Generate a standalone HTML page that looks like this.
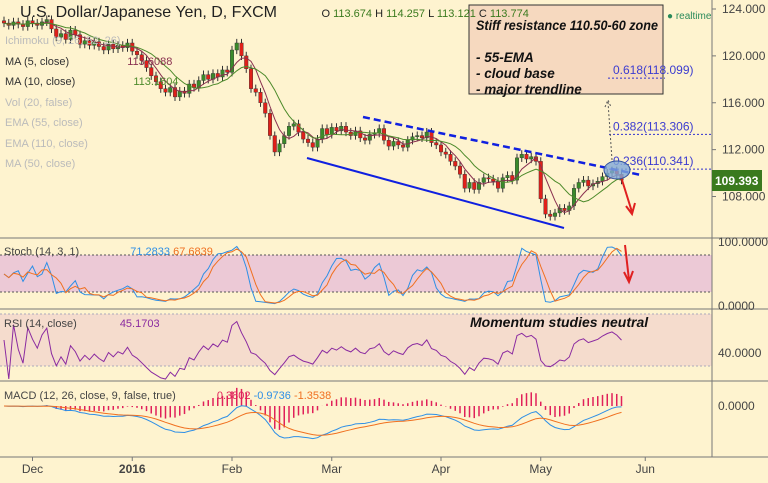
<!DOCTYPE html>
<html><head><meta charset="utf-8"><style>
body{margin:0;width:768px;height:483px;overflow:hidden;background:#fef3cf;font-family:"Liberation Sans",sans-serif}
svg{display:block}
text{font-family:"Liberation Sans",sans-serif}
</style></head><body>
<svg id="c" width="768" height="483">
<rect x="0" y="0" width="768" height="483" fill="#fef3cf"/>
<g id="bands"></g>
<g id="marks"></g>
<g id="over">
<g>
<rect x="469" y="5" width="194" height="89" fill="#f6d9bf" stroke="#333" stroke-width="1"/>
<text x="476" y="30" font-size="13.5" font-weight="bold" font-style="italic" fill="#111" textLength="182" lengthAdjust="spacingAndGlyphs">Stiff resistance 110.50-60 zone</text>
<text x="476" y="62" font-size="13.5" font-weight="bold" font-style="italic" fill="#111">- 55-EMA</text>
<text x="476" y="78" font-size="13.5" font-weight="bold" font-style="italic" fill="#111">- cloud base</text>
<text x="476" y="94" font-size="13.5" font-weight="bold" font-style="italic" fill="#111">- major trendline</text>
</g>
</g>
</svg>
<script>
const closes=[122.8,122.6,122.9,122.7,122.5,123.0,122.8,122.6,122.9,123.1,
122.3,121.6,121.9,121.4,122.2,121.8,121.0,121.3,120.9,121.2,
120.8,120.5,121.0,120.6,120.9,120.7,121.1,120.4,120.1,119.6,
119.0,118.3,117.8,117.2,116.9,117.3,116.5,117.0,116.8,117.6,
117.3,117.9,118.4,118.0,118.5,118.2,118.8,118.6,120.5,121.1,
120.0,118.9,117.2,116.9,116.0,115.1,113.2,111.8,112.5,113.2,
114.0,114.2,113.5,112.9,112.6,112.2,112.9,113.8,113.3,113.9,
113.6,114.0,113.5,113.2,113.6,113.0,112.8,113.3,113.4,113.8,
112.8,112.3,112.7,112.4,112.2,112.8,113.1,113.2,113.0,113.5,
112.6,112.4,111.8,111.6,111.0,110.6,109.9,108.7,109.2,108.6,
109.2,109.6,109.5,109.3,108.7,109.6,109.8,109.4,111.3,111.6,
111.2,111.4,111.0,107.8,106.5,106.3,106.6,107.0,106.8,107.2,
108.7,109.2,109.4,108.9,109.1,109.3,109.7,110.0,110.2,109.9,109.4];
const priceTicks=[124,120,116,112,108];
const monthLabels=["Dec","2016","Feb","Mar","Apr","May","Jun"];
const monthIdx=[6,27,48,69,92,113,135];
const fibLevels=[0.618,0.382,0.236];
const fibPrices=[118.099,113.306,110.341];
const lastPrice=109.393;

const NS="http://www.w3.org/2000/svg";
const xOf=i=>4+i*4.75;
const yP=v=>9+(124-v)*11.72;
const yS=v=>306-v*0.64;
const yR=v=>353-(v-40)*1.3;
const yM=v=>406-v*20;
function el(tag,attrs,parent,txt){const e=document.createElementNS(NS,tag);for(const k in attrs)e.setAttribute(k,attrs[k]);if(txt!==undefined)e.textContent=txt;(parent||document.getElementById('marks')).appendChild(e);return e;}
const bands=document.getElementById('bands'),over=document.getElementById('over');

let r=el('rect',{x:0,y:255,width:712,height:37,fill:'#ecc9d6'},bands);

r=el('rect',{x:0,y:314,width:712,height:52,fill:'#f5dccd'},bands);

[[255,'#555'],[292,'#555'],[314,'#aab'],[366,'#aab']].forEach(([y,c])=>{const l=el('line',{x1:0,x2:712,y1:y,y2:y,stroke:c,'stroke-dasharray':'2,2','stroke-width':1},bands);});
[238,309,381,457].forEach(y=>{const l=el('line',{x1:0,x2:768,y1:y,y2:y,stroke:'#777','stroke-width':1},bands);});
let ax=el('line',{x1:712,x2:712,y1:0,y2:457,stroke:'#777'},bands);


priceTicks.forEach(v=>{const t=el('text',{x:722,y:yP(v)+4,'font-size':12,fill:'#444'},over,v.toFixed(3));
const k=el('line',{x1:712,x2:716,y1:yP(v),y2:yP(v),stroke:'#777'},bands);});
[['100.0000',yS(100)],['0.0000',yS(0)],['40.0000',yR(40)],['0.0000',yM(0)]].forEach(([s,y])=>{const t=el('text',{x:718,y:y+4,'font-size':12,fill:'#444'},over,s);});

monthLabels.forEach((m,k)=>{const x=xOf(monthIdx[k]);const t=el('text',{x:x,y:473,'font-size':12,fill:'#444','text-anchor':'middle','font-weight':m==='2016'?'bold':'normal'},over,m);
const g=el('line',{x1:x,x2:x,y1:457,y2:461,stroke:'#777'},bands);});

closes.forEach((c,i)=>{const o=i?closes[i-1]:c+0.2;const hi=Math.max(o,c)+0.35,lo=Math.min(o,c)-0.35;const x=xOf(i);const up=c>=o;
const w=el('line',{x1:x,x2:x,y1:yP(hi),y2:yP(lo),stroke:'#333','stroke-width':1});
const b=el('rect',{x:x-1.8,y:yP(Math.max(o,c)),width:3.6,height:Math.max(1,Math.abs(yP(o)-yP(c))),fill:up?'#3a8a2a':'#e0201a',stroke:'#333','stroke-width':0.4});});

function sma(a,n){return a.map((_,i)=>{const s=a.slice(Math.max(0,i-n+1),i+1);return s.reduce((p,q)=>p+q,0)/s.length;});}
function ema(a,n){const k=2/(n+1);let out=[],p=a[0];a.forEach(v=>{p=v*k+p*(1-k);out.push(p);});return out;}
function line(vals,yf,color,name,w){const d=vals.map((v,i)=>(i?'L':'M')+xOf(i).toFixed(1)+','+yf(v).toFixed(1)).join('');const p=el('path',{d:d,fill:'none',stroke:color,'stroke-width':w||1});}
line(sma(closes,5),yP,'#8a3050','ma5-line');
line(sma(closes,10),yP,'#4c8a2a','ma10-line');

const rawK=closes.map((c,i)=>{const s=closes.slice(Math.max(0,i-13),i+1);const h=Math.max(...s)+0.35,l=Math.min(...s)-0.35;return (c-l)/(h-l)*100;});
const kS=sma(rawK,2),dS=sma(rawK,4);
line(kS,yS,'#2e8fe6','stoch-k-line');line(dS,yS,'#f07020','stoch-d-line');
let ag=0,al=0;const rsi=closes.map((c,i)=>{if(!i)return 50;const d=c-closes[i-1];ag=(ag*13+Math.max(d,0))/14;al=(al*13+Math.max(-d,0))/14;return al===0?70:100-100/(1+ag/al);});
line(rsi.map(v=>Math.max(20,Math.min(78,v))),yR,'#8a2aa0','rsi-line');
const e12=ema(closes,12),e26=ema(closes,26);const macd=e12.map((v,i)=>v-e26[i]);const sig=ema(macd,9);
macd.forEach((v,i)=>{const h=v-sig[i];const b=el('line',{x1:xOf(i),x2:xOf(i),y1:yM(0),y2:yM(h*1.8),stroke:'#e0205a','stroke-width':1.5});});
line(macd,yM,'#2e8fe6','macd-line');line(sig,yM,'#f07020','macd-signal-line');

let t1=el('line',{x1:307,y1:158,x2:564,y2:228,stroke:'#1020e0','stroke-width':2},over);
let t2=el('line',{x1:363,y1:117,x2:641,y2:175,stroke:'#1020e0','stroke-width':2.5,'stroke-dasharray':'7,4'},over);
fibLevels.forEach((f,k)=>{const y=yP(fibPrices[k]);const x0=k===0?608:609,x1=k===0?665:712;
const l=el('line',{x1:x0,x2:x1,y1:y,y2:y,stroke:'#3030d0','stroke-dasharray':'2,2'},over);
const t=el('text',{x:613,y:y-4,'font-size':12,fill:'#3c3cd0'},over,f+'('+fibPrices[k].toFixed(3)+')');});
let ell=el('ellipse',{cx:617,cy:170,rx:13,ry:9,fill:'#7fa8d8','fill-opacity':0.8,stroke:'#3050a0'},over);
let ar=el('path',{d:'M612,160 L608,102 M605,107 L608,100 L611,107',stroke:'#555','stroke-dasharray':'2,2',fill:'none'},over);
let dn=el('path',{d:'M622,180 L632,212 M626,206 L632,214 L635,203',stroke:'#e02020','stroke-width':2,fill:'none'},over);
let dn2=el('path',{d:'M625,245 L629,280 M624,272 L629,282 L633,271',stroke:'#e02020','stroke-width':2,fill:'none'},over);
let pl=el('rect',{x:712,y:170,width:50,height:21,fill:'#3a7a1e'},over);
let pt=el('text',{x:715,y:185,'font-size':12,fill:'#fff','font-weight':'bold'},over,lastPrice.toFixed(3));
</script>
<div style="position:absolute;left:20px;top:4px;font-size:16px;color:#222">U.S. Dollar/Japanese Yen, D, FXCM <span style="font-size:11px;color:#222;margin-left:40px">O <span style="color:#3a7a1e">113.674</span> H <span style="color:#3a7a1e">114.257</span> L <span style="color:#3a7a1e">113.121</span> C <span style="color:#3a7a1e">113.774</span></span></div>
<div style="position:absolute;left:667px;top:11px;font-size:10px;color:#2a8a5a">● realtime</div>
<div style="position:absolute;left:5px;top:31px;font-size:11px;line-height:20.5px;color:#bbb">
<div>Ichimoku (9, 26, 52, 26)</div>
<div style="color:#333">MA (5, close) <span style="color:#8a3050;margin-left:55px">113.6088</span></div>
<div style="color:#333">MA (10, close) <span style="color:#4c8a2a;margin-left:55px">113.1604</span></div>
<div>Vol (20, false)</div>
<div>EMA (55, close)</div>
<div>EMA (110, close)</div>
<div>MA (50, close)</div></div>
<div style="position:absolute;left:4px;top:246px;font-size:11px;color:#444">Stoch (14, 3, 1) <span style="color:#2e8fe6;margin-left:48px">71.2833</span> <span style="color:#f07020">67.6839</span></div>
<div style="position:absolute;left:4px;top:318px;font-size:11px;color:#444">RSI (14, close) <span style="color:#8a2aa0;margin-left:40px">45.1703</span></div>
<div style="position:absolute;left:470px;top:314px;font-size:14px;font-weight:bold;font-style:italic;color:#111">Momentum studies neutral</div>
<div style="position:absolute;left:4px;top:390px;font-size:11px;color:#444">MACD (12, 26, close, 9, false, true) <span style="color:#e0205a;margin-left:38px">0.3802</span> <span style="color:#2e8fe6">-0.9736</span> <span style="color:#f07020">-1.3538</span></div>
</body></html>
